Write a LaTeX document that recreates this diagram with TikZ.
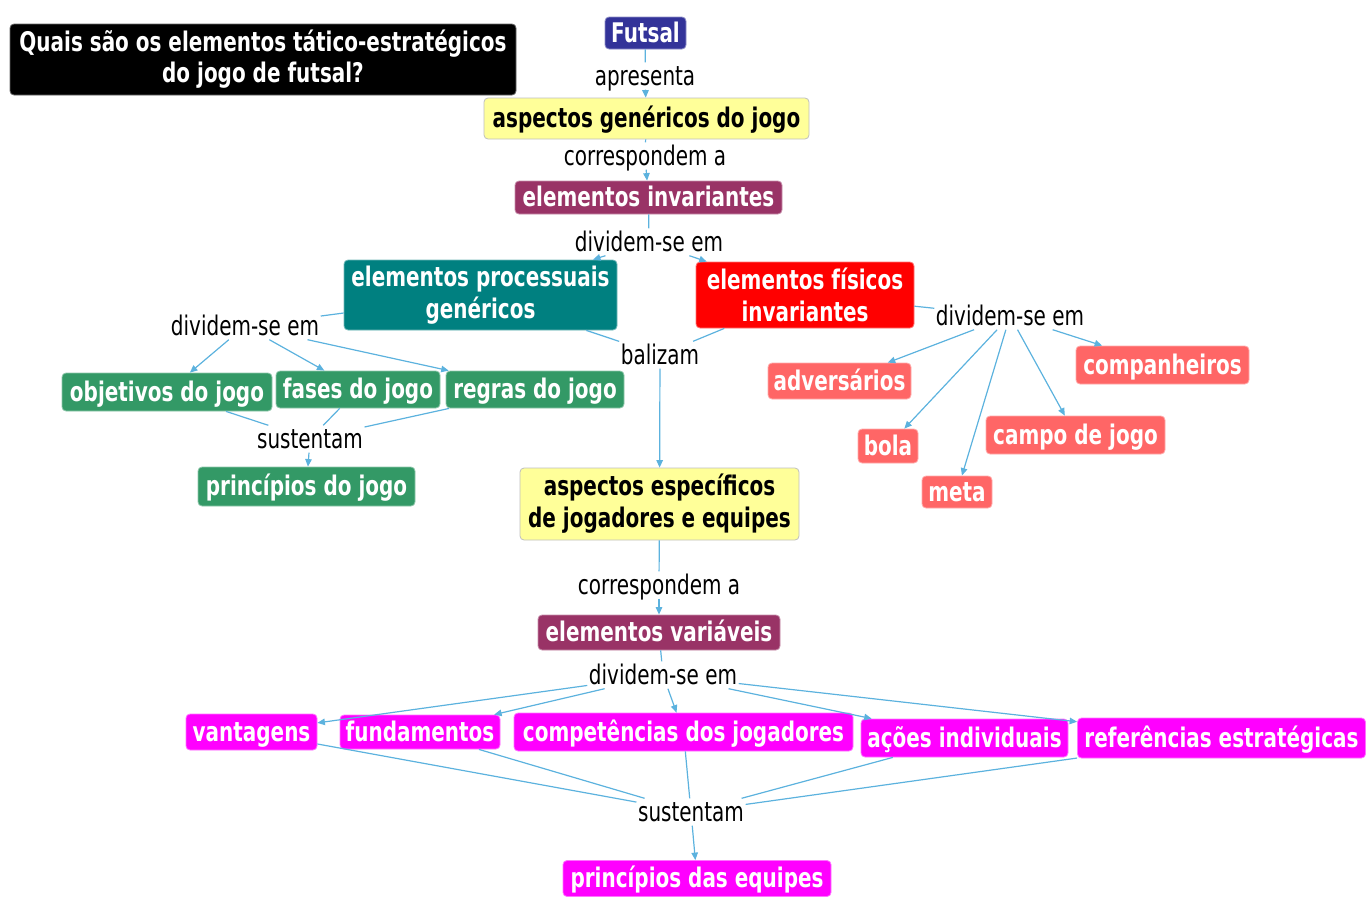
\documentclass[tikz,border=0pt]{standalone}
\usepackage{fontspec}
\setmainfont{DejaVu Sans}[FakeStretch=0.74]
\usetikzlibrary{arrows.meta}

\definecolor{linkc}{RGB}{92,178,222}
\definecolor{navyc}{RGB}{51,51,153}
\definecolor{yellowc}{RGB}{255,255,153}
\definecolor{plumc}{RGB}{153,51,102}
\definecolor{tealc}{RGB}{0,128,128}
\definecolor{redc}{RGB}{255,0,0}
\definecolor{greenc}{RGB}{51,153,102}
\definecolor{salmonc}{RGB}{255,102,102}
\definecolor{magc}{RGB}{255,0,255}

\tikzset{
  concept/.style={rounded corners=4pt, fill=#1, draw=#1!55!white, line width=0.8pt,
    text=white, font=\bfseries\fontsize{27}{31}\selectfont, align=center, inner sep=0pt},
  one/.style={text height=21pt, text depth=3pt},
  two/.style={text depth=6pt},
  pale/.style={concept=yellowc, draw=black!25, text=black},
  lbl/.style={font=\fontsize{27}{31}\selectfont, text=black, inner sep=1.5pt,
    text height=21pt, text depth=3pt},
  link/.style={draw=linkc, line width=1.2pt},
  arr/.style={link, -{Triangle[length=7.5pt,width=6.5pt]}},
}

\begin{document}
\begin{tikzpicture}[x=1pt, y=-1pt]
\useasboundingbox (0,0) rectangle (1366,897);

% question box
\node[concept=black, draw=black!60, minimum width=506pt, minimum height=71pt] (title) at (263,59.5)
  {Quais são os elementos tático-estratégicos\\do jogo de futsal?};

% concepts
\node[concept=navyc, one, minimum width=81pt, minimum height=32pt] (futsal) at (645.5,33) {Futsal};
\node[pale, one, minimum width=325pt, minimum height=41pt] (genericos) at (646.5,118.5) {aspectos genéricos do jogo};
\node[concept=plumc, one, minimum width=267pt, minimum height=33pt] (invar) at (648.5,197.5) {elementos invariantes};
\node[concept=tealc, minimum width=273pt, minimum height=70pt] (proc) at (480.5,295) {elementos processuais\\[1pt]genéricos};
\node[concept=redc, minimum width=218pt, minimum height=66pt] (fis) at (805,295) {elementos físicos\\[1pt]invariantes};

\node[concept=greenc, one, minimum width=210pt, minimum height=38pt] (obj) at (167,392) {objetivos do jogo};
\node[concept=greenc, one, minimum width=164pt, minimum height=37pt] (fases) at (358,389.5) {fases do jogo};
\node[concept=greenc, one, minimum width=178pt, minimum height=37pt] (regras) at (535,389.5) {regras do jogo};
\node[concept=greenc, one, minimum width=217pt, minimum height=39pt] (princj) at (306.5,486.5) {princípios do jogo};

\node[concept=salmonc, one, minimum width=143pt, minimum height=36pt] (adv) at (839.5,381) {adversários};
\node[concept=salmonc, one, minimum width=173pt, minimum height=38pt] (comp) at (1162.5,365) {companheiros};
\node[concept=salmonc, one, minimum width=60pt, minimum height=34pt] (bola) at (888,446) {bola};
\node[concept=salmonc, one, minimum width=179pt, minimum height=38pt] (campo) at (1075.5,435) {campo de jogo};
\node[concept=salmonc, one, minimum width=70pt, minimum height=32pt] (meta) at (957,492) {meta};

\node[pale, minimum width=279pt, minimum height=72pt] (espec) at (659.5,504) {aspectos específicos\\[1pt]de jogadores e equipes};
\node[concept=plumc, one, minimum width=242pt, minimum height=35pt] (variav) at (659,632.5) {elementos variáveis};

\node[concept=magc, one, minimum width=131pt, minimum height=36pt] (vant) at (251.5,732) {vantagens};
\node[concept=magc, one, minimum width=160pt, minimum height=34pt] (fund) at (420,732) {fundamentos};
\node[concept=magc, one, minimum width=339pt, minimum height=38pt] (compet) at (683.5,732) {competências dos jogadores};
\node[concept=magc, one, minimum width=207pt, minimum height=38pt] (acoes) at (964.5,738) {ações individuais};
\node[concept=magc, one, minimum width=288pt, minimum height=40pt] (refer) at (1221.5,738) {referências estratégicas};
\node[concept=magc, one, minimum width=268pt, minimum height=36pt] (princeq) at (697,878.5) {princípios das equipes};

% linking phrases
\node[lbl] (apres) at (645,76) {apresenta};
\node[lbl] (corr1) at (645,156) {correspondem a};
\node[lbl] (div1) at (649,242) {dividem-se em};
\node[lbl] (div2) at (245,326) {dividem-se em};
\node[lbl] (div3) at (1010,316) {dividem-se em};
\node[lbl] (baliz) at (660,355) {balizam};
\node[lbl] (sust1) at (310,439) {sustentam};
\node[lbl] (corr2) at (659,585) {correspondem a};
\node[lbl] (div4) at (663,675) {dividem-se em};
\node[lbl] (sust2) at (691,812) {sustentam};

% connections
\draw[link] (futsal) -- (apres);
\draw[arr] (apres) -- (genericos);
\draw[link] (genericos) -- (corr1);
\draw[arr] (corr1) -- (invar);
\draw[link] (invar) -- (div1);
\draw[arr] (div1) -- (proc);
\draw[arr] (div1) -- (fis);

\draw[link] (proc) -- (div2);
\draw[arr] (div2) -- (obj);
\draw[arr] (div2) -- (fases);
\draw[arr] (div2) -- (regras);
\draw[link] (obj) -- (sust1);
\draw[link] (fases) -- (sust1);
\draw[link] (regras) -- (sust1);
\draw[arr] (sust1) -- (princj);

\draw[link] (fis) -- (div3);
\draw[arr] (div3) -- (adv);
\draw[arr] (div3) -- (bola);
\draw[arr] (div3) -- (meta);
\draw[arr] (div3) -- (campo);
\draw[arr] (div3) -- (comp);

\draw[link] (proc) -- (baliz);
\draw[link] (fis) -- (baliz);
\draw[arr] (baliz) -- (espec);
\draw[link] (espec) -- (corr2);
\draw[arr] (corr2) -- (variav);
\draw[link] (variav) -- (div4);
\draw[arr] (div4) -- (vant);
\draw[arr] (div4) -- (fund);
\draw[arr] (div4) -- (compet);
\draw[arr] (div4) -- (acoes);
\draw[arr] (div4) -- (refer);

\draw[link] (vant) -- (sust2);
\draw[link] (fund) -- (sust2);
\draw[link] (compet) -- (sust2);
\draw[link] (acoes) -- (sust2);
\draw[link] (refer) -- (sust2);
\draw[arr] (sust2) -- (princeq);
\end{tikzpicture}
\end{document}
